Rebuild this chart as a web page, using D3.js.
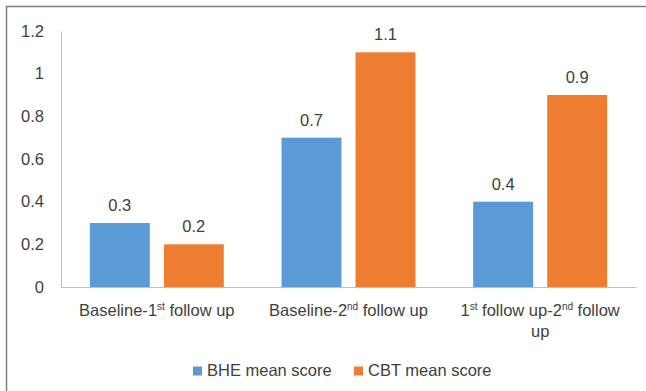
<!DOCTYPE html>
<html>
<head>
<meta charset="utf-8">
<script src="https://cdn.jsdelivr.net/npm/d3@7"></script>
<style>
  html, body { margin: 0; padding: 0; background: #fff; }
  svg { display: block; font-family: "Liberation Sans", Arial, sans-serif; }
</style>
</head>
<body>
<svg id="chart" width="646" height="391"></svg>
<script>
// Comparison periods (each line of a wrapped label is its own entry)
const categories = ["Baseline-1st follow up", "Baseline-2nd follow up", "1st follow up-2nd follow up"];
const categoryLines = [
  ["Baseline-1st follow up"],
  ["Baseline-2nd follow up"],
  ["1st follow up-2nd follow", "up"]
];
const seriesNames = ["BHE mean score", "CBT mean score"];
const bheValues = [0.3, 0.7, 0.4];
const cbtValues = [0.2, 1.1, 0.9];
const yTicks = [0, 0.2, 0.4, 0.6, 0.8, 1, 1.2];
const colors = ["#5B9BD5", "#ED7D31"];

const textColor = "#404040";
const fontSize = "16.5px";
const svg = d3.select("#chart");

// outer frame
svg.append("path")
  .attr("d", "M6.5,391 V6.5 H646")
  .attr("fill", "none")
  .attr("stroke", "#7f7f7f")
  .attr("stroke-width", 1.5);

const plot = { left: 61, right: 636, top: 31, bottom: 287 };

const x0 = d3.scaleBand()
  .domain(categories)
  .range([plot.left, plot.right])
  .paddingInner(0)
  .paddingOuter(0);

const x1 = d3.scaleBand()
  .domain(seriesNames)
  .range([0, x0.bandwidth()])
  .paddingInner(0.19)
  .paddingOuter(0.39);

const y = d3.scaleLinear()
  .domain([0, 1.2])
  .range([plot.bottom, plot.top]);

// y axis: line and labels only
const yAxis = d3.axisLeft(y)
  .tickValues(yTicks)
  .tickSize(0)
  .tickPadding(17)
  .tickFormat(d => String(d));

const yG = svg.append("g")
  .attr("transform", `translate(${plot.left},0)`)
  .call(yAxis);
yG.select(".domain").attr("stroke", "#bfbfbf").attr("stroke-width", 1);
yG.selectAll("text")
  .attr("fill", textColor)
  .style("font-size", fontSize)
  .style("font-family", "Liberation Sans, Arial, sans-serif");

// x axis baseline
const xAxis = d3.axisBottom(x0).tickSize(0).tickFormat("");
const xG = svg.append("g")
  .attr("transform", `translate(0,${plot.bottom})`)
  .call(xAxis);
xG.select(".domain").attr("stroke", "#bfbfbf").attr("stroke-width", 1);

// bars
const rows = categories.map((c, i) => ({
  category: c,
  values: [
    { series: seriesNames[0], value: bheValues[i], color: colors[0] },
    { series: seriesNames[1], value: cbtValues[i], color: colors[1] }
  ]
}));

const groups = svg.append("g").selectAll("g")
  .data(rows)
  .join("g")
  .attr("transform", d => `translate(${x0(d.category)},0)`);

groups.selectAll("rect")
  .data(d => d.values)
  .join("rect")
  .attr("x", d => x1(d.series))
  .attr("y", d => y(d.value))
  .attr("width", x1.bandwidth())
  .attr("height", d => y(0) - y(d.value))
  .attr("fill", d => d.color);

groups.selectAll("text.value")
  .data(d => d.values)
  .join("text")
  .attr("class", "value")
  .attr("x", d => x1(d.series) + x1.bandwidth() / 2)
  .attr("y", d => y(d.value) - 12)
  .attr("text-anchor", "middle")
  .attr("fill", textColor)
  .style("font-size", fontSize)
  .text(d => String(d.value));

// category labels with ordinal superscripts
function addRichText(sel, str) {
  const parts = str.split(/(\d)(st|nd|rd|th)(?=\s|-|$)/);
  let sup = false;
  parts.forEach((p, idx) => {
    if (p === undefined || p === "") return;
    const isSup = idx % 3 === 2;
    const t = sel.append("tspan").text(p);
    if (isSup) {
      t.style("font-size", "10px").attr("dy", "-6px");
      sup = true;
    } else if (sup) {
      t.attr("dy", "6px");
      sup = false;
    }
  });
}

categories.forEach((c, i) => {
  const cx = x0(c) + x0.bandwidth() / 2;
  categoryLines[i].forEach((line, j) => {
    const t = svg.append("text")
      .attr("x", cx)
      .attr("y", 316 + j * 21)
      .attr("text-anchor", "middle")
      .attr("fill", textColor)
      .style("font-size", fontSize);
    addRichText(t, line);
  });
});

// legend
const legend = svg.append("g");
const legendX = [193, 354];
seriesNames.forEach((name, i) => {
  legend.append("rect")
    .attr("x", legendX[i])
    .attr("y", 366.5)
    .attr("width", 9)
    .attr("height", 9)
    .attr("fill", colors[i]);
  legend.append("text")
    .attr("x", legendX[i] + 14)
    .attr("y", 376)
    .attr("fill", textColor)
    .style("font-size", fontSize)
    .text(name);
});
</script>
</body>
</html>
